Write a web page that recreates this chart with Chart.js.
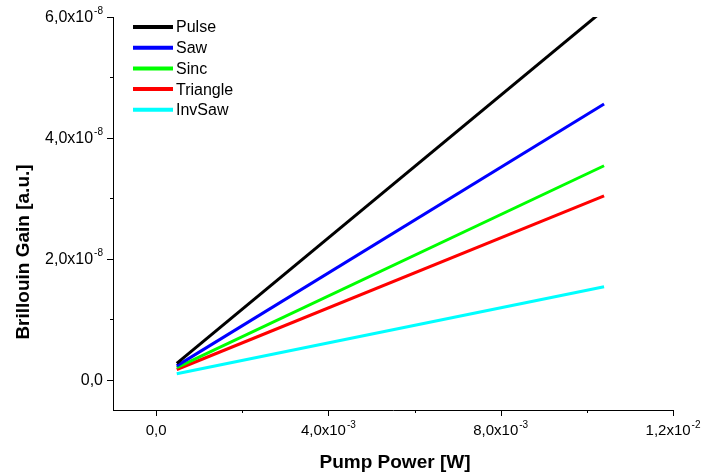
<!DOCTYPE html>
<html>
<head>
<meta charset="utf-8">
<script src="https://cdn.jsdelivr.net/npm/chart.js@4.4.1/dist/chart.umd.min.js"></script>
<style>
  html, body { margin: 0; padding: 0; background: #fff; }
  #c { display: block; }
</style>
</head>
<body>
<canvas id="c" width="704" height="474"></canvas>
<script>
// Pump power (W) at the two ends of each fitted gain line
const pumpPower = [0.00048, 0.0104];

// Brillouin gain (a.u.) per pump waveform
const pulseGain    = [0.27e-8, 6.12e-8];
const sawGain      = [0.23e-8, 4.56e-8];
const sincGain     = [0.20e-8, 3.54e-8];
const triangleGain = [0.17e-8, 3.04e-8];
const invSawGain   = [0.10e-8, 1.54e-8];

const seriesNames  = ['Pulse', 'Saw', 'Sinc', 'Triangle', 'InvSaw'];
const seriesColors = ['#000000', '#0000ff', '#00ff00', '#ff0000', '#00ffff'];

// Axis ticks: labelled major ticks ("^" marks the exponent) and unlabelled minor ticks
const xMajorTicks  = [0, 0.004, 0.008, 0.012];
const xTickLabels  = ['0,0', '4,0x10^-3', '8,0x10^-3', '1,2x10^-2'];
const xMinorTicks  = [0.002, 0.006, 0.010];
const yMajorTicks  = [0, 2e-8, 4e-8, 6e-8];
const yTickLabels  = ['0,0', '2,0x10^-8', '4,0x10^-8', '6,0x10^-8'];
const yMinorTicks  = [1e-8, 3e-8, 5e-8];

const xTitle = 'Pump Power [W]';
const yTitle = 'Brillouin Gain [a.u.]';

const FONT = 'Arial, "Liberation Sans", Helvetica, sans-serif';

const toPoints = ys => pumpPower.map((x, i) => ({ x: x, y: ys[i] }));
const allSeries = [pulseGain, sawGain, sincGain, triangleGain, invSawGain];

// Label text with a raised exponent, anchored by align at (x, y)
function drawSciLabel(ctx, text, x, y, align, size) {
  const parts = text.split('^');
  const main = parts[0], exp = parts[1] || '';
  const expSize = Math.round(size * 0.65);
  ctx.font = size + 'px ' + FONT;
  const wMain = ctx.measureText(main).width;
  ctx.font = expSize + 'px ' + FONT;
  const wExp = exp ? ctx.measureText(exp).width + 1 : 0;
  const total = wMain + wExp;
  let left = x;
  if (align === 'center') left = x - total / 2;
  else if (align === 'right') left = x - total;
  ctx.textAlign = 'left';
  ctx.textBaseline = 'middle';
  ctx.fillStyle = '#000';
  ctx.font = size + 'px ' + FONT;
  ctx.fillText(main, left, y);
  if (exp) {
    ctx.font = expSize + 'px ' + FONT;
    ctx.fillText(exp, left + wMain + 1, y - size * 0.4);
  }
}

const axesPlugin = {
  id: 'originAxes',
  afterDraw(chart) {
    const ctx = chart.ctx;
    const xs = chart.scales.x, ys = chart.scales.y;
    const area = chart.chartArea;
    ctx.save();
    ctx.strokeStyle = '#000';
    ctx.lineWidth = 1;
    // tick marks pointing outward
    ctx.beginPath();
    xMajorTicks.forEach(v => { const p = Math.round(xs.getPixelForValue(v)) + 0.5; ctx.moveTo(p, area.bottom); ctx.lineTo(p, area.bottom + 6); });
    xMinorTicks.forEach(v => { const p = Math.round(xs.getPixelForValue(v)) + 0.5; ctx.moveTo(p, area.bottom); ctx.lineTo(p, area.bottom + 3); });
    yMajorTicks.forEach(v => { const p = Math.round(ys.getPixelForValue(v)) + 0.5; ctx.moveTo(area.left, p); ctx.lineTo(area.left - 6, p); });
    yMinorTicks.forEach(v => { const p = Math.round(ys.getPixelForValue(v)) + 0.5; ctx.moveTo(area.left, p); ctx.lineTo(area.left - 3, p); });
    ctx.stroke();

    // tick labels
    xMajorTicks.forEach((v, i) => drawSciLabel(ctx, xTickLabels[i], xs.getPixelForValue(v), area.bottom + 21, 'center', 15));
    yMajorTicks.forEach((v, i) => drawSciLabel(ctx, yTickLabels[i], area.left - 10, ys.getPixelForValue(v) + 1, 'right', 16));

    // axis titles
    ctx.fillStyle = '#000';
    ctx.font = 'bold 19px ' + FONT;
    ctx.textAlign = 'center';
    ctx.textBaseline = 'middle';
    ctx.fillText(xTitle, 395, 463);
    ctx.translate(24, 252);
    ctx.rotate(-Math.PI / 2);
    ctx.fillText(yTitle, 0, 0);
    ctx.restore();

    // legend in the upper-left corner of the plot
    ctx.save();
    ctx.font = '16px ' + FONT;
    ctx.textBaseline = 'middle';
    ctx.textAlign = 'left';
    chart.data.datasets.forEach((ds, i) => {
      const y = 27 + i * 20.7;
      ctx.strokeStyle = ds.borderColor;
      ctx.lineWidth = 4;
      ctx.beginPath();
      ctx.moveTo(133, y);
      ctx.lineTo(173, y);
      ctx.stroke();
      ctx.fillStyle = '#000';
      ctx.fillText(ds.label, 176, y + 1);
    });
    ctx.restore();
  }
};

new Chart(document.getElementById('c'), {
  type: 'line',
  data: {
    datasets: allSeries.map((ys, i) => ({
      label: seriesNames[i],
      data: toPoints(ys),
      borderColor: seriesColors[i],
      backgroundColor: seriesColors[i],
      borderWidth: 3,
      pointRadius: 0,
      tension: 0,
      fill: false,
      clip: 0
    }))
  },
  options: {
    responsive: false,
    animation: false,
    devicePixelRatio: 1,
    layout: { padding: { left: 0, top: 17, right: 31, bottom: 0 } },
    plugins: { legend: { display: false }, tooltip: { enabled: false } },
    scales: {
      x: {
        type: 'linear',
        min: -0.001,
        max: 0.012,
        grid: { display: false },
        ticks: { display: false },
        border: { display: true, color: '#000', width: 1 },
        afterFit(s) { s.height = 64; }
      },
      y: {
        type: 'linear',
        min: -0.5e-8,
        max: 6e-8,
        grid: { display: false },
        ticks: { display: false },
        border: { display: true, color: '#000', width: 1 },
        afterFit(s) { s.width = 113; }
      }
    }
  },
  plugins: [axesPlugin]
});
</script>
</body>
</html>
